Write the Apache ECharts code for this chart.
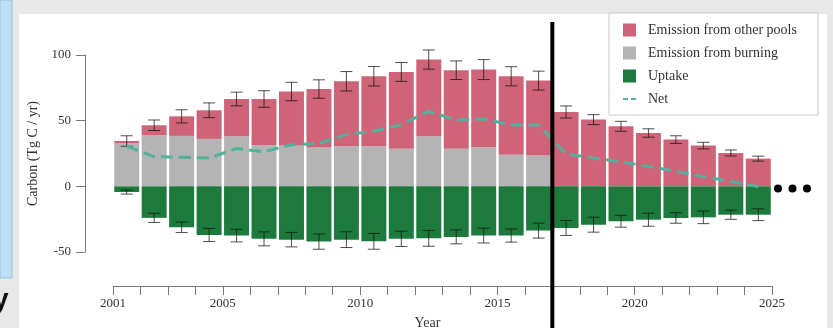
<!DOCTYPE html>
<html>
<head>
<meta charset="utf-8">
<script src="https://cdn.jsdelivr.net/npm/echarts@6/dist/echarts.min.js"></script>
<style>
  html, body { margin: 0; padding: 0; background: #e8e8e8; overflow: hidden; }
  #chart { width: 833px; height: 328px; }
</style>
</head>
<body>
<div id="chart"></div>
<script>
// Annual carbon budget, Tg C / yr
const categories = ['2001','2002','2003','2004','2005','2006','2007','2008','2009','2010','2011','2012',
                    '2013','2014','2015','2016','2017','2018','2019','2020','2021','2022','2023','2024'];
const burning    = [33, 38.9, 38.4, 36.1, 38.1, 31.5, 31, 29.5, 30.5, 30.5, 28.7, 38.1,
                    28.6, 29.7, 24.1, 23.4, 0, 0, 0, 0, 0, 0, 0, 0];
const otherPools = [1.5, 7.6, 14.9, 21.8, 28.4, 35, 41.2, 44.6, 49.5, 53.3, 58.4, 58.4,
                    59.8, 59.2, 59.7, 57.1, 56.6, 50.8, 45.7, 40.6, 35.6, 31, 25.4, 21.1];
const uptake     = [-4.3, -24, -31.2, -37, -37.5, -40, -40.6, -42.1, -40.6, -41.9, -40, -39.6,
                    -38.5, -37.5, -37.5, -33.7, -31.7, -29.2, -26.6, -25.4, -24.1, -23.6, -21.6, -21.6];
const net        = [30.5, 22.6, 22.2, 21.5, 28.8, 26.3, 31.7, 32.5, 39.4, 41.9, 47, 57,
                    50.5, 51.3, 46.8, 46.7, 24.7, 21.6, 18.5, 15.2, 11.5, 7.4, 3.8, -0.3];
const emissionErr = [4, 4, 5, 5.6, 5.2, 6.3, 7, 7, 7.4, 7.4, 7.2, 7.3,
                     7.1, 7.6, 7.3, 7.2, 4.6, 3.8, 3.8, 3.2, 2.9, 2.5, 2.3, 1.9];
const uptakeErr   = [1.6, 3.5, 4, 5, 4.8, 5.3, 5.5, 5.8, 6, 6, 5.8, 6,
                     5.3, 5.6, 5, 5.7, 5.7, 5.7, 4.5, 5, 4, 4.8, 3.5, 4.5];
const yearLabels = [2001, 2005, 2010, 2015, 2020, 2025];
const yTicks = [-50, 0, 50, 100];
const projectionStart = 2017;

const SERIF = "'Liberation Serif', 'Times New Roman', serif";
const C_OTHER = '#cf6479';
const C_BURN = '#b4b4b4';
const C_UPTAKE = '#1b7a3c';
const C_NET = '#52b09c';
// two short dashes for the Net legend key
const DASH_ICON = 'path://M0,0 L5,0 L5,2 L0,2 Z M8,0 L13,0 L13,2 L8,2 Z';

const emissionBars = categories.map((c, i) => [i, burning[i] + otherPools[i], emissionErr[i]]);
const uptakeBars = categories.map((c, i) => [i, uptake[i], uptakeErr[i]]);

function errorBar(params, api) {
  const i = api.value(0), v = api.value(1), e = api.value(2);
  const hi = api.coord([i, v + e]);
  const lo = api.coord([i, v - e]);
  const cap = 6;
  const style = { stroke: 'rgba(20,20,20,0.75)', lineWidth: 1 };
  return {
    type: 'group',
    children: [
      { type: 'line', shape: { x1: hi[0], y1: hi[1], x2: lo[0], y2: lo[1] }, style },
      { type: 'line', shape: { x1: hi[0] - cap, y1: hi[1], x2: hi[0] + cap, y2: hi[1] }, style },
      { type: 'line', shape: { x1: lo[0] - cap, y1: lo[1], x2: lo[0] + cap, y2: lo[1] }, style }
    ]
  };
}

const chart = echarts.init(document.getElementById('chart'), null, { renderer: 'canvas' });
chart.setOption({
  backgroundColor: '#e8e8e8',
  animation: false,
  graphic: [
    { type: 'rect', z: -10, shape: { x: 19, y: 14, width: 808, height: 314 }, style: { fill: '#ffffff' } },
    { type: 'rect', z: -10, shape: { x: 0, y: 0, width: 12, height: 278 }, style: { fill: '#bcdff6', stroke: '#9bbfd8', lineWidth: 1 } },
    { type: 'text', z: -9, x: -7, y: 286, style: { text: 'y', font: "bold 28px 'Liberation Sans', Arial, sans-serif", fill: '#111' } },
    { type: 'circle', z: 10, shape: { cx: 778, cy: 188.5, r: 4 }, style: { fill: '#000' } },
    { type: 'circle', z: 10, shape: { cx: 792.5, cy: 188.5, r: 4 }, style: { fill: '#000' } },
    { type: 'circle', z: 10, shape: { cx: 807, cy: 188.5, r: 4 }, style: { fill: '#000' } }
  ],
  legend: {
    left: 609, top: 13,
    orient: 'vertical',
    backgroundColor: '#ffffff',
    borderColor: '#c8c8c8', borderWidth: 1, borderRadius: 0,
    padding: [10, 21, 9, 14],
    itemWidth: 13, itemHeight: 13, itemGap: 9,
    symbolKeepAspect: true,
    textStyle: { fontFamily: SERIF, fontSize: 14, color: '#333', lineHeight: 13, padding: [0, 0, 0, 7] },
    data: [
      { name: 'Emission from other pools', icon: 'rect' },
      { name: 'Emission from burning', icon: 'rect' },
      { name: 'Uptake', icon: 'rect' },
      { name: 'Net', icon: DASH_ICON, itemStyle: { color: C_NET } }
    ]
  },
  grid: [
    { left: 113, right: 61, top: 55, bottom: 76, outerBoundsMode: 'none', containLabel: false },
    { left: 113, right: 61, top: 22, bottom: 0, outerBoundsMode: 'none', containLabel: false }
  ],
  xAxis: [
    { type: 'category', gridIndex: 0, data: categories, show: false, boundaryGap: true },
    {
      type: 'value', gridIndex: 0, position: 'bottom', offset: 34,
      min: 2001, max: 2025, interval: 1,
      name: 'Year', nameLocation: 'middle', nameGap: 30,
      nameTextStyle: { fontFamily: SERIF, fontSize: 14, color: '#333', padding: [0, 30, 0, 0] },
      axisLine: { show: true, lineStyle: { color: '#7a7a7a', width: 1 } },
      axisTick: { show: true, length: 9, lineStyle: { color: '#7a7a7a' } },
      axisLabel: {
        margin: 11, fontFamily: SERIF, fontSize: 13, color: '#333',
        formatter: v => yearLabels.includes(v) ? String(v) : ''
      },
      splitLine: { show: false }
    },
    { type: 'value', gridIndex: 1, min: 2001, max: 2025, show: false }
  ],
  yAxis: [
    {
      type: 'value', gridIndex: 0, min: -50, max: 100, interval: 50, offset: 28,
      name: 'Carbon (Tg C / yr)', nameLocation: 'middle', nameGap: 38, nameRotate: 90,
      nameTextStyle: { fontFamily: SERIF, fontSize: 14, color: '#333' },
      axisLine: { show: true, lineStyle: { color: '#7a7a7a', width: 1 } },
      axisTick: { show: true, length: 9, lineStyle: { color: '#7a7a7a' } },
      axisLabel: {
        margin: 14, fontFamily: SERIF, fontSize: 13, color: '#333',
        formatter: v => yTicks.includes(v) ? String(v) : ''
      },
      splitLine: { show: false }
    },
    { type: 'value', gridIndex: 1, min: 0, max: 1, show: false }
  ],
  series: [
    {
      name: 'Emission from burning', type: 'bar', stack: 'budget',
      xAxisIndex: 0, yAxisIndex: 0, data: burning,
      barCategoryGap: '9%', itemStyle: { color: C_BURN }
    },
    {
      name: 'Emission from other pools', type: 'bar', stack: 'budget',
      xAxisIndex: 0, yAxisIndex: 0, data: otherPools,
      barCategoryGap: '9%', itemStyle: { color: C_OTHER }
    },
    {
      name: 'Uptake', type: 'bar', stack: 'budget',
      xAxisIndex: 0, yAxisIndex: 0, data: uptake,
      barCategoryGap: '9%', itemStyle: { color: C_UPTAKE }
    },
    {
      name: 'emission-error', type: 'custom', xAxisIndex: 0, yAxisIndex: 0,
      renderItem: errorBar, data: emissionBars, z: 4, silent: true
    },
    {
      name: 'uptake-error', type: 'custom', xAxisIndex: 0, yAxisIndex: 0,
      renderItem: errorBar, data: uptakeBars, z: 4, silent: true
    },
    {
      name: 'Net', type: 'line', xAxisIndex: 0, yAxisIndex: 0, data: net,
      symbol: 'none', z: 5,
      itemStyle: { color: C_NET },
      lineStyle: { color: C_NET, width: 3, type: [12, 6] }
    },
    {
      name: 'projection-start', type: 'line', xAxisIndex: 2, yAxisIndex: 1,
      data: [[projectionStart, 0], [projectionStart, 1]],
      symbol: 'none', z: 6, silent: true,
      lineStyle: { color: '#000', width: 4 }
    }
  ]
});
</script>
</body>
</html>
